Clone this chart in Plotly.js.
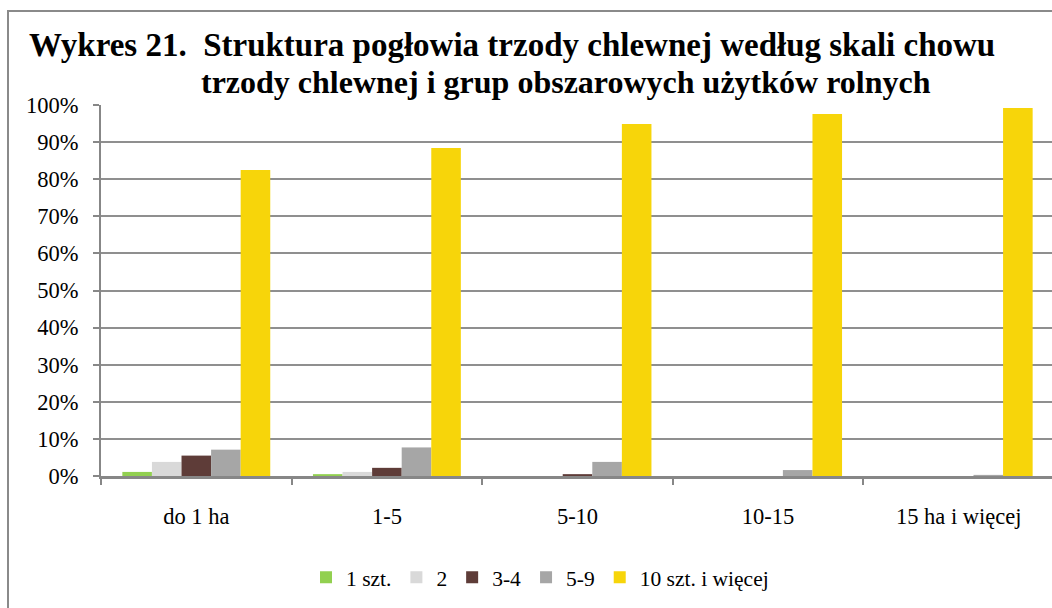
<!DOCTYPE html>
<html>
<head>
<meta charset="utf-8">
<script src="https://cdn.plot.ly/plotly-3.0.1.min.js"></script>
<style>
html, body { margin:0; padding:0; overflow:hidden; background:#fff; width:1052px; height:608px; }
#frame { position:absolute; left:7px; top:10px; width:1100px; height:700px; border:2px solid #8a8a8a; box-sizing:border-box; pointer-events:none; z-index:5; }
#chart { position:absolute; left:0; top:0; width:1060px; height:608px; }
</style>
</head>
<body>
<div id="chart"></div>
<div id="frame"></div>
<script>
const categories = ['do 1 ha', '1-5', '5-10', '10-15', '15 ha i więcej'];
const seriesNames = ['1 szt.', '2', '3-4', '5-9', '10 szt. i więcej'];
const s1szt = [1.1, 0.5, 0.0, 0.0, 0.0];
const s2 = [3.8, 1.1, 0.0, 0.0, 0.0];
const s3_4 = [5.5, 2.2, 0.5, 0.0, 0.0];
const s5_9 = [7.1, 7.7, 3.8, 1.6, 0.3];
const s10plus = [82.5, 88.4, 94.9, 97.6, 99.2];
const seriesValues = [s1szt, s2, s3_4, s5_9, s10plus];
const colors = ['#92d050', '#d9d9d9', '#5e3c38', '#a6a6a6', '#f7d50a'];
const titleLine1 = 'Wykres 21.  Struktura pogłowia trzody chlewnej według skali chowu';
const titleLine2 = 'trzody chlewnej i grup obszarowych użytków rolnych';

const W = 1060, H = 608;
const L = 101, R = 6, T = 105, B = 131.5;
const pw = W - L - R, ph = H - T - B;
const px = x => (x - L) / pw;
const py = y => (H - B - y) / ph;

const serif = '"Liberation Serif", "Times New Roman", serif';

const traces = seriesValues.map((vals, i) => ({
  type: 'bar',
  name: seriesNames[i],
  x: categories,
  y: vals.map(v => v / 100),
  marker: { color: colors[i], line: { width: 0 } },
  hoverinfo: 'skip'
}));

const layout = {
  width: W, height: H,
  margin: { l: L, r: R, t: T, b: B, pad: 0 },
  paper_bgcolor: '#ffffff', plot_bgcolor: '#ffffff',
  barmode: 'group', bargap: 0.224, bargroupgap: 0,
  font: { family: serif, size: 22.5, color: '#000' },
  showlegend: true,
  legend: {
    orientation: 'h', x: px(540), xanchor: 'center', y: py(578), yanchor: 'middle',
    font: { family: serif, size: 21.5, color: '#000' },
    traceorder: 'normal', itemclick: false, itemdoubleclick: false
  },
  xaxis: {
    type: 'category', range: [-0.5, 4.5],
    showline: true, linecolor: '#878787', linewidth: 3,
    ticks: 'outside', tickson: 'boundaries', ticklen: 6, tickwidth: 2, tickcolor: '#878787',
    showgrid: false, zeroline: false,
    tickfont: { family: serif, size: 22.5, color: '#000' },
    ticklabelstandoff: 18
  },
  yaxis: {
    range: [0, 1], tickvals: [0,0.1,0.2,0.3,0.4,0.5,0.6,0.7,0.8,0.9,1.0],
    tickformat: '.0%',
    showline: true, linecolor: '#878787', linewidth: 2,
    ticks: 'outside', ticklen: 6, tickwidth: 2, tickcolor: '#878787',
    showgrid: true, gridcolor: '#8f8f8f', gridwidth: 2,
    zeroline: false,
    tickfont: { family: serif, size: 22.5, color: '#000' },
    ticklabelstandoff: 10
  },
  annotations: [
    { text: '<b>' + titleLine1 + '</b>', xref: 'paper', yref: 'paper',
      x: px(512), y: py(45), xanchor: 'center', yanchor: 'middle', showarrow: false,
      font: { family: serif, size: 33, color: '#000' } },
    { text: '<b>' + titleLine2 + '</b>', xref: 'paper', yref: 'paper',
      x: px(566), y: py(82), xanchor: 'center', yanchor: 'middle', showarrow: false,
      font: { family: serif, size: 32, color: '#000' } }
  ]
};

Plotly.newPlot('chart', traces, layout, { displayModeBar: false, staticPlot: true });
</script>
</body>
</html>
